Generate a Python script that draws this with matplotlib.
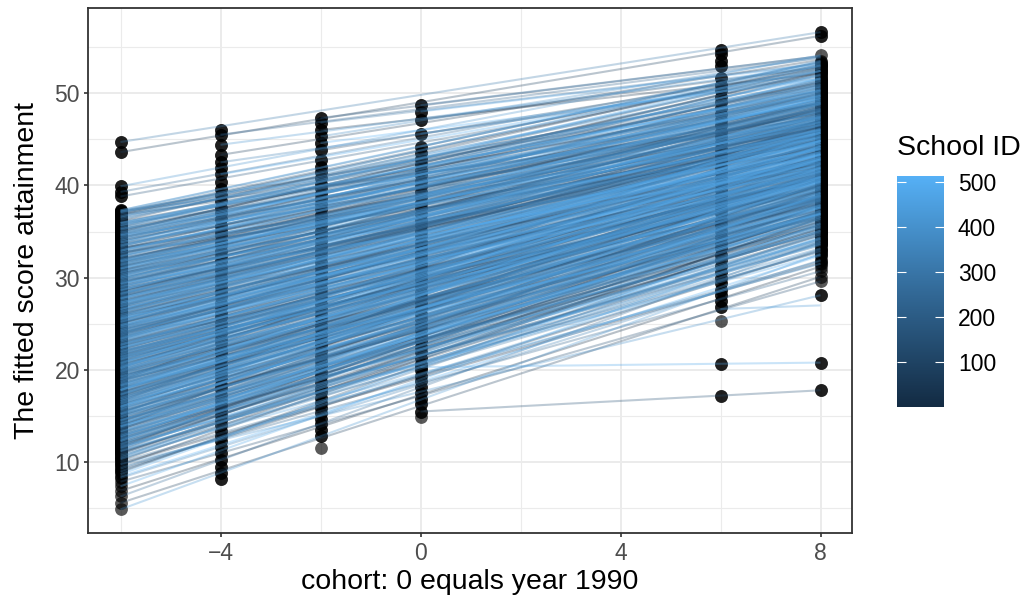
import matplotlib
matplotlib.use("Agg")
import matplotlib.pyplot as plt
import numpy as np
from matplotlib.colors import LinearSegmentedColormap, Normalize
from matplotlib.collections import LineCollection

plt.rcParams['font.family'] = ['Liberation Sans', 'DejaVu Sans']

# ---------------- data ----------------
# fitted score per school at cohort -6 (start) and at cohort 8 (end)
full_start = [
    4.9, 5.6, 6.3, 6.9, 7.4, 7.9,
    8.3, 8.7, 9.2, 9.5, 9.8, 10.2, 10.4, 10.7, 10.9, 11.0,
    11.2, 11.3, 11.5, 11.7, 11.8, 12.0, 12.2, 12.3, 12.5, 12.6, 12.8, 12.9, 13.0, 13.2, 13.3, 13.5, 13.6, 13.7, 13.8, 13.9, 11.9, 12.7,
    14.0, 14.1, 14.2, 14.4, 14.5, 14.6, 14.7, 14.9, 15.0, 15.1, 15.2, 15.4, 15.5, 15.6, 15.7, 15.9, 16.0, 16.1, 16.2, 16.3, 16.4, 16.5, 16.6, 16.7, 16.8, 16.9, 17.0, 14.3, 15.3, 15.8,
    17.1, 17.2, 17.3, 17.4, 17.5, 17.6, 17.7, 17.8, 17.9, 18.0, 18.1, 18.2, 18.3, 18.4, 18.5, 18.6, 18.7, 18.8, 18.9, 19.0, 19.1, 19.2, 19.3, 19.4, 19.5, 19.6, 19.7, 19.8, 19.9, 20.0, 17.3, 17.9, 18.4, 18.9, 19.3, 19.8,
    20.1, 20.2, 20.3, 20.4, 20.5, 20.6, 20.7, 20.8, 20.9, 21.0, 21.1, 21.2, 21.3, 21.4, 21.5, 21.6, 21.7, 21.8, 21.9, 22.0, 22.1, 22.2, 22.3, 22.4, 22.5, 22.6, 22.7, 22.8, 22.9, 23.0, 20.3, 20.7, 21.2, 21.6, 22.0, 22.4, 22.7, 21.4,
    23.1, 23.2, 23.3, 23.4, 23.5, 23.6, 23.7, 23.8, 23.9, 24.0, 24.1, 24.2, 24.3, 24.4, 24.5, 24.6, 24.7, 24.8, 24.9, 25.0, 25.1, 25.2, 25.3, 25.4, 25.5, 25.6, 25.7, 25.8, 25.9, 26.0, 23.4, 23.8, 24.3, 24.7, 25.1, 25.5, 25.8, 24.0,
    26.1, 26.2, 26.3, 26.4, 26.5, 26.6, 26.7, 26.8, 26.9, 27.0, 27.1, 27.2, 27.3, 27.4, 27.5, 27.6, 27.7, 27.8, 27.9, 28.0, 28.1, 28.2, 28.3, 28.4, 28.5, 28.6, 28.7, 28.8, 28.9, 26.4, 26.9, 27.3, 27.8, 28.2, 28.6, 29.0,
    29.1, 29.2, 29.3, 29.4, 29.5, 29.6, 29.7, 29.8, 29.9, 30.0, 30.1, 30.2, 30.3, 30.4, 30.5, 30.6, 30.7, 30.8, 30.9, 31.0, 31.1, 31.2, 31.3, 31.4, 31.5, 31.6, 31.7, 31.8, 31.9, 32.0,
    32.1, 32.3, 32.4, 32.6, 32.7, 32.9, 33.0, 33.2, 33.4, 33.5, 33.7, 33.8, 34.0, 34.1, 34.3, 34.4, 34.6, 34.7, 34.9, 35.0,
    35.2, 35.5, 35.7, 36.0, 36.2, 36.5, 36.7, 36.9, 37.1, 37.3,
    38.8, 39.3, 39.9, 43.6, 44.7,
    12.04, 12.13, 12.27, 12.31, 12.46, 12.52, 12.68, 12.73, 12.85, 12.96,
    13.02, 13.18, 13.23, 13.37, 13.41, 13.59, 13.64, 13.77, 13.88, 13.93,
    14.08, 14.11, 14.29, 14.34, 14.48, 14.55, 14.62, 14.79, 14.83, 14.97,
    15.04, 15.13, 15.27, 15.31, 15.46, 15.52, 15.68, 15.73, 15.85, 15.96,
    16.02, 16.18, 16.23, 16.37, 16.41, 16.59, 16.64, 16.77, 16.88, 16.93,
    17.08, 17.11, 17.29, 17.34, 17.48, 17.55, 17.62, 17.79, 17.83, 17.97,
    18.04, 18.13, 18.27, 18.31, 18.46, 18.52, 18.68, 18.73, 18.85, 18.96,
    19.02, 19.18, 19.23, 19.37, 19.41, 19.59, 19.64, 19.77, 19.88, 19.93,
    20.08, 20.11, 20.29, 20.34, 20.48, 20.55, 20.62, 20.79, 20.83, 20.97,
    21.04, 21.13, 21.27, 21.31, 21.46, 21.52, 21.68, 21.73, 21.85, 21.96,
    22.02, 22.18, 22.23, 22.37, 22.41, 22.59, 22.64, 22.77, 22.88, 22.93,
    23.08, 23.11, 23.29, 23.34, 23.48, 23.55, 23.62, 23.79, 23.83, 23.97,
    24.04, 24.13, 24.27, 24.31, 24.46, 24.52, 24.68, 24.73, 24.85, 24.96,
    25.02, 25.18, 25.23, 25.37, 25.41, 25.59, 25.64, 25.77, 25.88, 25.93,
    26.08, 26.11, 26.29, 26.34, 26.48, 26.55, 26.62, 26.79, 26.83, 26.97,
    27.04, 27.13, 27.27, 27.31, 27.46, 27.52, 27.68, 27.73, 27.85, 27.96,
    28.02, 28.18, 28.23, 28.37, 28.41, 28.59, 28.64, 28.77, 28.88, 28.93,
    29.08, 29.11, 29.29, 29.34, 29.48, 29.55, 29.62, 29.79, 29.83, 29.97,
    30.04, 30.13, 30.27, 30.31, 30.46, 30.52, 30.68, 30.73, 30.85, 30.96,
    31.02, 31.18, 31.23, 31.37, 31.41, 31.59, 31.64, 31.77, 31.88, 31.93,
    32.02, 32.18, 32.23, 32.37, 32.41, 32.59, 32.64, 32.77, 32.88, 32.93,
    33.08, 33.11, 33.29, 33.34, 33.48, 33.55, 33.62, 33.79, 33.83, 33.97,
    34.04, 34.13, 34.27, 34.31, 34.46, 34.52, 34.68, 34.73, 34.85, 34.96,
    35.02, 35.18, 35.23, 35.37, 35.41, 35.59, 35.64, 35.77, 35.88, 35.93,
    36.08, 36.29, 36.48, 36.62, 36.83, 36.97, 37.05, 37.14, 37.22, 37.28,
    8.45, 8.92, 9.33, 9.68, 10.05, 10.31, 10.58, 10.84, 11.07, 11.26,
    11.41, 11.58, 11.63, 11.76, 11.85, 11.94, 9.01, 9.87, 10.49, 11.12,
    30.5, 31.8, 33.2, 34.6, 35.9, 36.8, 29.4, 32.7, 35.3, 37.2,
    12.4, 13.9, 15.2, 16.6, 17.8, 14.5, 18.9, 20.2, 11.6, 16.0,
]
full_end = [
    32.6, 30.1, 33.9, 31.2, 34.4, 29.6,
    31.9, 35.8, 33.0, 30.7, 28.1, 36.4, 33.7, 31.5, 37.0, 34.6,
    33.2, 37.9, 35.1, 32.8, 38.4, 36.6, 34.0, 39.0, 35.7, 33.5, 37.6, 35.0, 38.9, 36.1, 33.9, 37.2, 39.4, 35.4, 36.8, 34.3, 37.0, 38.1,
    35.1, 38.9, 36.4, 40.2, 37.5, 34.9, 38.3, 36.7, 39.8, 37.1, 35.6, 40.6, 38.0, 36.2, 39.3, 37.6, 41.0, 35.9, 38.7, 40.1, 37.0, 39.5, 36.6, 41.4, 38.4, 37.4, 40.5, 36.0, 38.6, 40.9,
    37.0, 41.5, 39.2, 36.8, 40.6, 38.1, 42.0, 39.7, 37.4, 41.1, 38.6, 36.9, 40.3, 42.4, 38.9, 37.7, 41.7, 39.4, 36.5, 40.8, 38.2, 42.6, 39.9, 37.3, 41.3, 38.8, 40.0, 43.0, 37.9, 41.9, 39.0, 40.4, 37.6, 42.2, 38.5, 40.7,
    39.3, 43.4, 41.0, 38.6, 42.5, 40.1, 44.0, 41.7, 39.0, 43.1, 40.5, 42.8, 38.9, 41.4, 44.3, 40.2, 42.0, 39.6, 43.6, 41.2, 38.8, 42.7, 40.7, 44.6, 41.9, 39.8, 43.3, 40.9, 42.3, 39.4, 41.8, 44.2, 40.0, 42.9, 38.7, 41.5, 43.8, 40.6,
    41.0, 44.9, 42.6, 40.4, 45.5, 43.2, 41.6, 46.0, 42.9, 44.3, 40.8, 43.7, 45.8, 42.1, 44.6, 41.4, 46.3, 43.0, 40.9, 45.1, 42.5, 44.0, 41.9, 46.6, 43.5, 42.2, 45.3, 41.2, 44.8, 43.9, 45.9, 42.4, 44.1, 41.7, 46.2, 43.4, 42.7, 44.5,
    42.6, 46.5, 44.1, 47.2, 43.4, 45.7, 42.9, 46.9, 44.8, 43.7, 47.5, 45.2, 42.8, 46.4, 44.3, 47.8, 45.6, 43.3, 46.7, 44.9, 48.0, 45.9, 43.6, 47.3, 45.0, 48.3, 46.1, 44.2, 47.6, 45.1, 47.0, 44.6, 46.3, 48.6, 45.4, 47.1,
    44.4, 48.1, 46.0, 49.2, 45.3, 47.4, 44.8, 48.8, 46.6, 45.7, 49.5, 47.0, 44.9, 48.4, 46.3, 49.8, 47.7, 45.5, 48.9, 46.8, 50.1, 47.3, 45.1, 49.0, 46.9, 50.4, 48.2, 45.9, 49.3, 47.5,
    46.2, 49.7, 48.0, 51.0, 47.1, 50.2, 48.8, 46.6, 51.5, 49.3, 47.8, 50.6, 48.5, 52.0, 49.0, 47.4, 51.2, 49.9, 48.2, 52.3,
    49.0, 52.6, 50.4, 48.9, 53.1, 51.3, 49.6, 52.8, 50.9, 53.5,
    52.4, 53.0, 54.1, 56.2, 56.6,
    34.2, 37.8, 35.5, 38.6, 33.7, 36.9, 39.1, 35.0, 37.3, 34.6,
    38.2, 35.3, 39.5, 36.4, 34.1, 37.9, 35.8, 39.8, 36.9, 38.5,
    35.6, 39.2, 37.0, 40.1, 36.3, 38.7, 34.8, 37.7, 40.4, 36.8,
    39.6, 36.5, 38.9, 41.0, 37.2, 35.7, 40.2, 38.3, 36.9, 41.3,
    37.1, 40.7, 38.4, 36.6, 41.6, 39.3, 37.8, 40.0, 42.0, 38.8,
    41.2, 37.6, 39.9, 42.3, 38.5, 40.9, 37.2, 39.5, 41.8, 38.1,
    38.4, 42.1, 40.2, 37.9, 41.5, 39.1, 42.8, 40.6, 38.8, 41.0,
    42.4, 39.2, 41.3, 38.7, 43.1, 40.5, 39.8, 42.0, 40.9, 43.4,
    39.6, 42.7, 41.1, 43.8, 40.3, 42.2, 39.9, 43.0, 41.6, 40.7,
    43.5, 40.4, 42.6, 44.3, 41.2, 39.9, 43.2, 41.8, 44.0, 40.8,
    41.0, 44.2, 42.4, 40.6, 43.7, 45.0, 41.7, 43.1, 40.9, 44.5,
    44.8, 41.6, 43.4, 45.4, 42.3, 40.9, 44.1, 42.8, 45.7, 43.0,
    42.0, 45.2, 43.7, 41.5, 46.1, 44.4, 42.6, 45.6, 43.3, 44.9,
    45.8, 42.8, 44.5, 46.4, 43.1, 41.9, 45.3, 44.0, 46.8, 42.5,
    43.5, 46.6, 44.8, 42.9, 47.2, 45.5, 43.9, 46.0, 44.3, 47.5,
    46.9, 44.0, 45.8, 47.7, 43.6, 46.3, 44.7, 48.1, 45.2, 47.0,
    44.6, 47.8, 46.1, 43.9, 48.5, 45.4, 47.2, 44.9, 48.8, 46.6,
    48.2, 45.3, 47.4, 49.1, 46.0, 44.8, 48.6, 46.7, 49.4, 45.7,
    45.9, 48.9, 47.0, 49.7, 46.4, 48.3, 45.5, 50.0, 47.6, 48.7,
    49.5, 46.8, 48.4, 50.3, 47.3, 45.9, 49.0, 48.0, 50.6, 46.5,
    46.9, 50.1, 48.0, 51.2, 47.4, 49.6, 46.5, 50.8, 48.7, 49.3,
    50.9, 47.6, 49.8, 51.6, 48.2, 50.4, 47.9, 52.1, 49.1, 50.0,
    48.3, 51.3, 49.7, 52.4, 48.8, 50.7, 47.8, 51.9, 50.2, 49.4,
    52.2, 49.2, 51.0, 53.0, 48.9, 50.6, 52.7, 49.8, 51.4, 50.3,
    49.5, 52.4, 50.8, 53.3, 51.1, 49.9, 52.9, 51.6, 50.2, 53.4,
    32.4, 35.9, 33.1, 36.5, 31.8, 34.7, 37.2, 32.9, 35.4, 33.6,
    37.8, 34.2, 36.1, 32.5, 35.2, 38.0, 34.9, 31.6, 36.8, 33.8,
    43.2, 42.4, 44.6, 45.1, 46.0, 47.3, 42.1, 43.9, 45.5, 46.8,
    41.5, 43.8, 44.9, 46.2, 45.7, 42.9, 47.1, 46.6, 40.7, 44.3,
]
full_id = [
    412, 87, 263, 19, 478, 145, 331, 502, 66, 219, 390, 8, 297, 451, 173, 38, 356, 124, 489, 241,
    15, 368, 199, 433, 92, 276, 511, 57, 314, 160, 447, 231, 3, 382, 108, 465, 252, 29, 341, 187,
    496, 73, 288, 420, 136, 205, 361, 44, 473, 266, 117, 399, 11, 323, 180, 507, 82, 245, 438, 152,
    304, 25, 459, 214, 377, 99, 282, 486, 51, 168, 407, 338, 131, 22, 260, 443, 193, 349, 76, 501,
    227, 394, 113, 469, 35, 308, 156, 425, 270, 61, 482, 197, 344, 5, 236, 415, 140, 371, 94, 293,
    454, 177, 30, 359, 248, 513, 121, 402, 67, 285, 440, 163, 326, 14, 210, 491, 104, 373, 256, 47,
    318, 149, 467, 83, 386, 221, 2, 430, 274, 128, 499, 190, 352, 59, 243, 418, 97, 335, 171, 476,
    40, 301, 208, 444, 119, 365, 12, 258, 492, 143, 397, 70, 320, 183, 457, 28, 237, 410, 101, 346,
    484, 162, 279, 53, 423, 217, 375, 134, 504, 88, 311, 196, 448, 17, 264, 389, 125, 470, 233, 63,
    355, 186, 436, 9, 295, 405, 111, 250, 479, 78, 328, 158, 463, 42, 224, 384, 137, 510, 271, 96,
    342, 204, 427, 33, 290, 166, 453, 115, 367, 74, 235, 494, 153, 316, 21, 400, 262, 129, 475, 189,
    55, 380, 212, 446, 106, 299, 498, 141, 362, 68, 255, 421, 179, 6, 333, 461, 229, 91, 392, 147,
    487, 26, 268, 414, 122, 306, 195, 458, 81, 350, 239, 508, 159, 37, 287, 432, 114, 378, 201, 472,
    64, 321, 175, 441, 247, 10, 369, 135, 495, 283, 102, 416, 216, 48, 339, 466, 170, 253, 403, 85,
    312,
    271, 33, 458, 119, 384, 206, 497, 62, 339, 175, 426, 12, 301, 148, 483, 227, 90, 364, 513, 190,
    45, 317, 452, 138, 266, 401, 79, 229, 488, 157, 350, 24, 419, 203, 326, 107, 472, 281, 58, 395,
    164, 437, 16, 293, 378, 131, 505, 242, 69, 412, 185, 330, 7, 461, 254, 98, 347, 221, 479, 139,
    372, 50, 283, 424, 111, 196, 509, 35, 258, 391, 127, 444, 216, 73, 309, 468, 150, 3, 366, 240,
    431, 86, 322, 178, 493, 260, 19, 405, 143, 357, 234, 500, 65, 289, 416, 102, 199, 455, 28, 337,
    247, 381, 121, 476, 54, 303, 168, 430, 92, 276, 511, 38, 362, 213, 447, 135, 286, 10, 398, 172,
    318, 463, 81, 244, 409, 154, 375, 26, 490, 201, 116, 343, 439, 60, 268, 507, 183, 311, 95, 422,
    57, 298, 441, 132, 387, 218, 484, 76, 353, 160, 276, 502, 41, 231, 415, 109, 334, 471, 192, 13,
    369, 145, 295, 433, 71, 256, 496, 123, 387, 208, 52, 449, 315, 180, 88, 410, 237, 360, 4, 486,
    196, 327, 63, 462, 141, 279, 418, 99, 351, 224, 503, 30, 292, 166, 437, 75, 383, 251, 118, 474,
    38, 402, 173, 289, 461, 97, 233, 350, 8, 489, 146, 327, 212, 455, 64, 381, 270, 119, 506, 195,
    333, 15, 427, 248, 157, 493, 82, 366, 219, 440, 31, 304, 185, 477, 126, 258, 397, 49, 342, 514,
    104, 389, 226, 467, 58, 310, 175, 433, 92, 282, 498, 137, 361, 21, 245, 418, 163, 294, 79, 450,
    206, 372, 44, 481, 134, 319, 267, 11, 408, 190,
    207, 388, 61, 452, 279, 134, 495, 18, 341, 226, 417, 73, 302, 188, 466, 250, 9, 359, 113, 486,
]
full_from, full_to = -6, 8

# schools observed only from a later cohort onwards
part_from = [0, 0, 6,
             -4, -4, -4, -4, -4, -2, -2, -2, -2, -2, -2, 0, 0, 0, 0, 0]
part_start = [15.5, 20.3, 26.6,
              45.5, 44.4, 43.3, 42.5, 41.2, 47.3, 46.8, 46.0, 45.3, 44.6, 43.8, 48.7, 48.0, 47.1, 45.6, 44.2]
part_to = [8, 8, 8,
           8, 8, 8, 8, 8, 8, 8, 8, 8, 8, 8, 8, 8, 8, 8, 8]
part_end = [17.8, 20.8, 27.0,
            53.8, 52.9, 53.6, 51.7, 52.4, 54.0, 53.2, 52.1, 53.9, 51.5, 52.6, 54.0, 53.1, 52.8, 51.9, 53.4]
part_id = [151, 481, 419,
           222, 409, 71, 335, 498, 160, 287, 44, 376, 511, 129, 265, 453, 98, 318, 192]

# fitted scores at the intermediate cohorts (two or more pupils per listed score)
pts_m4 = [8.2, 8.8, 9.5, 10.3, 11.0, 11.7, 12.3, 12.9, 13.4, 14.0, 14.6, 15.1, 15.7, 16.2, 16.8, 17.3,
          17.9, 18.4, 19.0, 19.6, 20.1, 20.5, 21.2, 21.8, 22.3, 22.9, 23.4, 24.0, 24.6, 25.1, 25.7, 26.2,
          26.8, 27.3, 27.9, 28.5, 29.0, 29.6, 30.1, 30.7, 31.2, 31.8, 32.4, 32.9, 33.5, 34.0, 34.6, 35.1,
          35.6, 36.4, 37.0, 37.6, 38.3, 39.0, 39.6, 40.4, 41.2, 41.9, 42.5, 43.3, 44.4, 45.5, 46.0]
pts_m2 = [12.8, 13.5, 14.1, 14.7, 15.3, 15.9, 16.4, 17.0, 17.6, 18.1, 18.7, 19.3, 19.8, 20.4, 21.0,
          21.5, 22.1, 22.7, 23.2, 23.8, 24.4, 24.9, 25.5, 26.1, 26.6, 27.2, 27.8, 28.3, 28.9, 29.5, 30.0,
          30.6, 31.2, 31.7, 32.3, 32.9, 33.4, 34.0, 34.6, 35.1, 35.7, 36.3, 36.8, 37.4, 38.0, 38.5, 39.1,
          39.7, 40.2, 40.8, 41.4, 42.0, 42.7, 43.8, 44.6, 45.3, 46.0, 46.8, 47.3]
pts_0 = [15.5, 16.3, 16.9, 17.5, 18.2, 18.8, 19.4, 20.0, 20.3, 20.7, 21.3, 21.9, 22.5, 23.1, 23.7,
         24.3, 24.9, 25.5, 26.1, 26.7, 27.3, 27.9, 28.5, 29.1, 29.7, 30.3, 30.9, 31.5, 32.1, 32.7, 33.3,
         33.9, 34.5, 35.1, 35.7, 36.3, 36.9, 37.5, 38.1, 38.7, 39.3, 39.9, 40.5, 41.1, 41.7, 42.3, 42.9,
         43.5, 44.2, 45.6, 47.1, 48.0, 48.7]
pts_6 = [17.2, 20.6, 26.8, 27.5, 28.1, 28.7, 29.4, 30.0, 30.6, 31.3, 31.9, 32.5, 33.2,
         33.8, 34.4, 35.1, 35.7, 36.3, 37.0, 37.6, 38.2, 38.9, 39.5, 40.1, 40.8, 41.4, 42.0, 42.7, 43.3,
         43.9, 44.6, 45.2, 45.8, 46.5, 47.1, 47.7, 48.4, 49.0, 49.6, 50.3, 50.9, 51.6, 52.9, 53.5, 54.2, 54.7]
# scores held by a single pupil
single_m2 = [11.6]
single_0 = [14.9]
single_6 = [25.3]
# additional pupils at the end cohorts (besides one per school line)
extra_m6 = [38.8, 39.3, 39.9, 43.6, 44.7]
extra_8 = [17.8, 17.8, 20.8, 20.8, 28.1, 56.6, 56.2]

x_ticks = [-4, 0, 4, 8]
y_ticks = [10, 20, 30, 40, 50]
cb_ticks = [100, 200, 300, 400, 500]
id_min, id_max = 1, 514

# ---------------- figure ----------------
W, H = 1027, 603
fig = plt.figure(figsize=(W / 100, H / 100), dpi=100)
px0, px1, py0, py1 = 88, 852, 7.5, 533
ax = fig.add_axes([px0 / W, 1 - py1 / H, (px1 - px0) / W, (py1 - py0) / H])

cmap = LinearSegmentedColormap.from_list('gg', ['#132B43', '#336A98', '#56B1F7'])
norm = Normalize(id_min, id_max)

PT = dict(s=85, c='black', alpha=0.65, lw=0, zorder=2)
# points
ax.scatter(np.full(len(full_start), full_from), full_start, **PT)
ax.scatter(np.full(len(extra_m6), -6), extra_m6, **PT)
for cx, vals in [(-4, pts_m4), (-2, pts_m2), (0, pts_0), (6, pts_6)]:
    v = np.repeat(vals, 2)
    ax.scatter(np.full(len(v), cx), v, **PT)
for cx, vals in [(-2, single_m2), (0, single_0), (6, single_6)]:
    ax.scatter(np.full(len(vals), cx), vals, **PT)
ax.scatter(np.full(len(full_end), full_to), full_end, **PT)
ax.scatter(np.full(len(extra_8), 8), extra_8, **PT)

# lines (drawn in order of school id)
segs, ids = [], []
for s, e, i in zip(full_start, full_end, full_id):
    segs.append([(full_from, s), (full_to, e)])
    ids.append(i)
for xf, s, xt, e, i in zip(part_from, part_start, part_to, part_end, part_id):
    segs.append([(xf, s), (xt, e)])
    ids.append(i)
order = np.argsort(ids, kind='stable')
segs = [segs[k] for k in order]
ids = np.array(ids)[order]
lc = LineCollection(segs, colors=cmap(norm(ids)), alpha=0.3, linewidths=1.5, zorder=3)
ax.add_collection(lc)

ax.set_xlim(-6.65, 8.63)
ax.set_ylim(2.34, 59.27)
ax.set_xticks(x_ticks)
ax.set_xticklabels(['\u2212' + str(-t) if t < 0 else str(t) for t in x_ticks])
ax.set_yticks(y_ticks)
ax.set_xticks([-6, -2, 2, 6], minor=True)
ax.set_yticks([5, 15, 25, 35, 45, 55], minor=True)
ax.grid(which='major', color='#EBEBEB', lw=1.4, zorder=0)
ax.grid(which='minor', color='#EBEBEB', lw=0.8, zorder=0)
ax.set_axisbelow(True)
ax.tick_params(which='minor', length=0)
ax.tick_params(which='major', length=3.2, width=1.2, color='#333333',
               labelcolor='#4D4D4D', labelsize=16.5)
ax.tick_params(axis='x', pad=3)
ax.tick_params(axis='y', pad=2.5)
for sp in ax.spines.values():
    sp.set_color('#333333')
    sp.set_linewidth(1.3)

fig.text((px0 + px1) / 2 / W, 1 - 582 / H, 'cohort: 0 equals year 1990',
         ha='center', va='center', fontsize=20.5)
fig.text(27 / W, 1 - (py0 + py1) / 2 / H, 'The fitted score attainment',
         ha='center', va='center', rotation=90, fontsize=20.5)

# colour bar legend
cb_x0, cb_x1, cb_y0, cb_y1 = 897, 944, 176, 407
cax = fig.add_axes([cb_x0 / W, 1 - cb_y1 / H, (cb_x1 - cb_x0) / W, (cb_y1 - cb_y0) / H])
grad = np.linspace(id_min, id_max, 256).reshape(-1, 1)
cax.imshow(grad, cmap=cmap, norm=norm, aspect='auto', origin='lower',
           extent=[0, 1, id_min, id_max])
cax.set_xlim(0, 1)
cax.set_ylim(id_min, id_max)
cax.set_xticks([])
cax.set_yticks(cb_ticks)
cax.tick_params(axis='y', left=True, right=True, labelleft=False, labelright=True,
                direction='in', length=6.5, width=0.8, color='white',
                labelcolor='black', labelsize=16.5, pad=10)
for sp in cax.spines.values():
    sp.set_visible(False)
fig.text(cb_x0 / W, 1 - 148 / H, 'School ID', ha='left', va='center', fontsize=20.5)

fig.savefig('out.png', dpi=100)
